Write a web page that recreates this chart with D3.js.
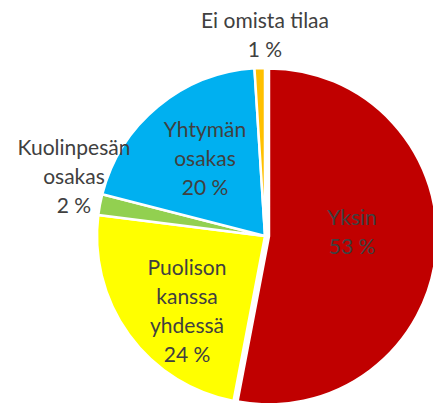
<!DOCTYPE html>
<html>
<head>
<meta charset="utf-8">
<script src="https://cdn.jsdelivr.net/npm/d3@7"></script>
<style>
  html, body { margin: 0; padding: 0; background: #fff; }
  svg { display: block; }
  text { font-family: Lato, "Liberation Sans", sans-serif; fill: #404040; }
</style>
</head>
<body>
<svg id="chart" width="433" height="403"></svg>
<script>
// Ownership categories, clockwise from 12 o'clock
const categories = ["Yksin", "Puolison kanssa yhdessä", "Kuolinpesän osakas", "Yhtymän osakas", "Ei omista tilaa"];
const shares = [53, 24, 2, 20, 1];
const colors = ["#C00000", "#FFFF00", "#92D050", "#00B0F0", "#FFC000"];
// Label lines per slice (category split over lines, then the percentage)
const labelLines = [
  ["Yksin"],
  ["Puolison", "kanssa", "yhdessä"],
  ["Kuolinpesän", "osakas"],
  ["Yhtymän", "osakas"],
  ["Ei omista tilaa"]
];

const W = 433, H = 403;
const cx = 265, cy = 236, R = 168;
const explode = 4;           // pull-out distance for the first slice
const lineH = 29;

const svg = d3.select("#chart");
const g = svg.append("g").attr("transform", `translate(${cx},${cy})`);

const pie = d3.pie().sort(null).value(d => d)(shares);
const arc = d3.arc().innerRadius(0).outerRadius(R);

g.selectAll("path.slice")
  .data(pie)
  .join("path")
  .attr("class", "slice")
  .attr("d", arc)
  .attr("fill", (d, i) => colors[i])
  .attr("stroke", "#fff")
  .attr("stroke-width", 2.5)
  .attr("stroke-linejoin", "round")
  .attr("transform", (d, i) => {
    if (i !== 0) return null;
    const a = (d.startAngle + d.endAngle) / 2;
    return `translate(${explode * Math.sin(a)},${-explode * Math.cos(a)})`;
  });

// Label anchor positions (centre x, first baseline y), relative to the pie centre
const labelPos = [
  [87, -11],    // Yksin
  [-78, 39],    // Puolison kanssa yhdessä
  [-191, -81],  // Kuolinpesän osakas
  [-60, -99],   // Yhtymän osakas
  [0, -208]     // Ei omista tilaa
];

const labels = g.selectAll("text.lbl")
  .data(pie)
  .join("text")
  .attr("class", "lbl")
  .attr("text-anchor", "middle")
  .attr("font-size", 21);

labels.each(function (d, i) {
  const t = d3.select(this);
  const lines = labelLines[i].concat([`${shares[i]} %`]);
  lines.forEach((s, k) => {
    t.append("tspan")
      .attr("x", labelPos[i][0])
      .attr("y", labelPos[i][1] + k * lineH)
      .text(s);
  });
});
</script>
</body>
</html>
